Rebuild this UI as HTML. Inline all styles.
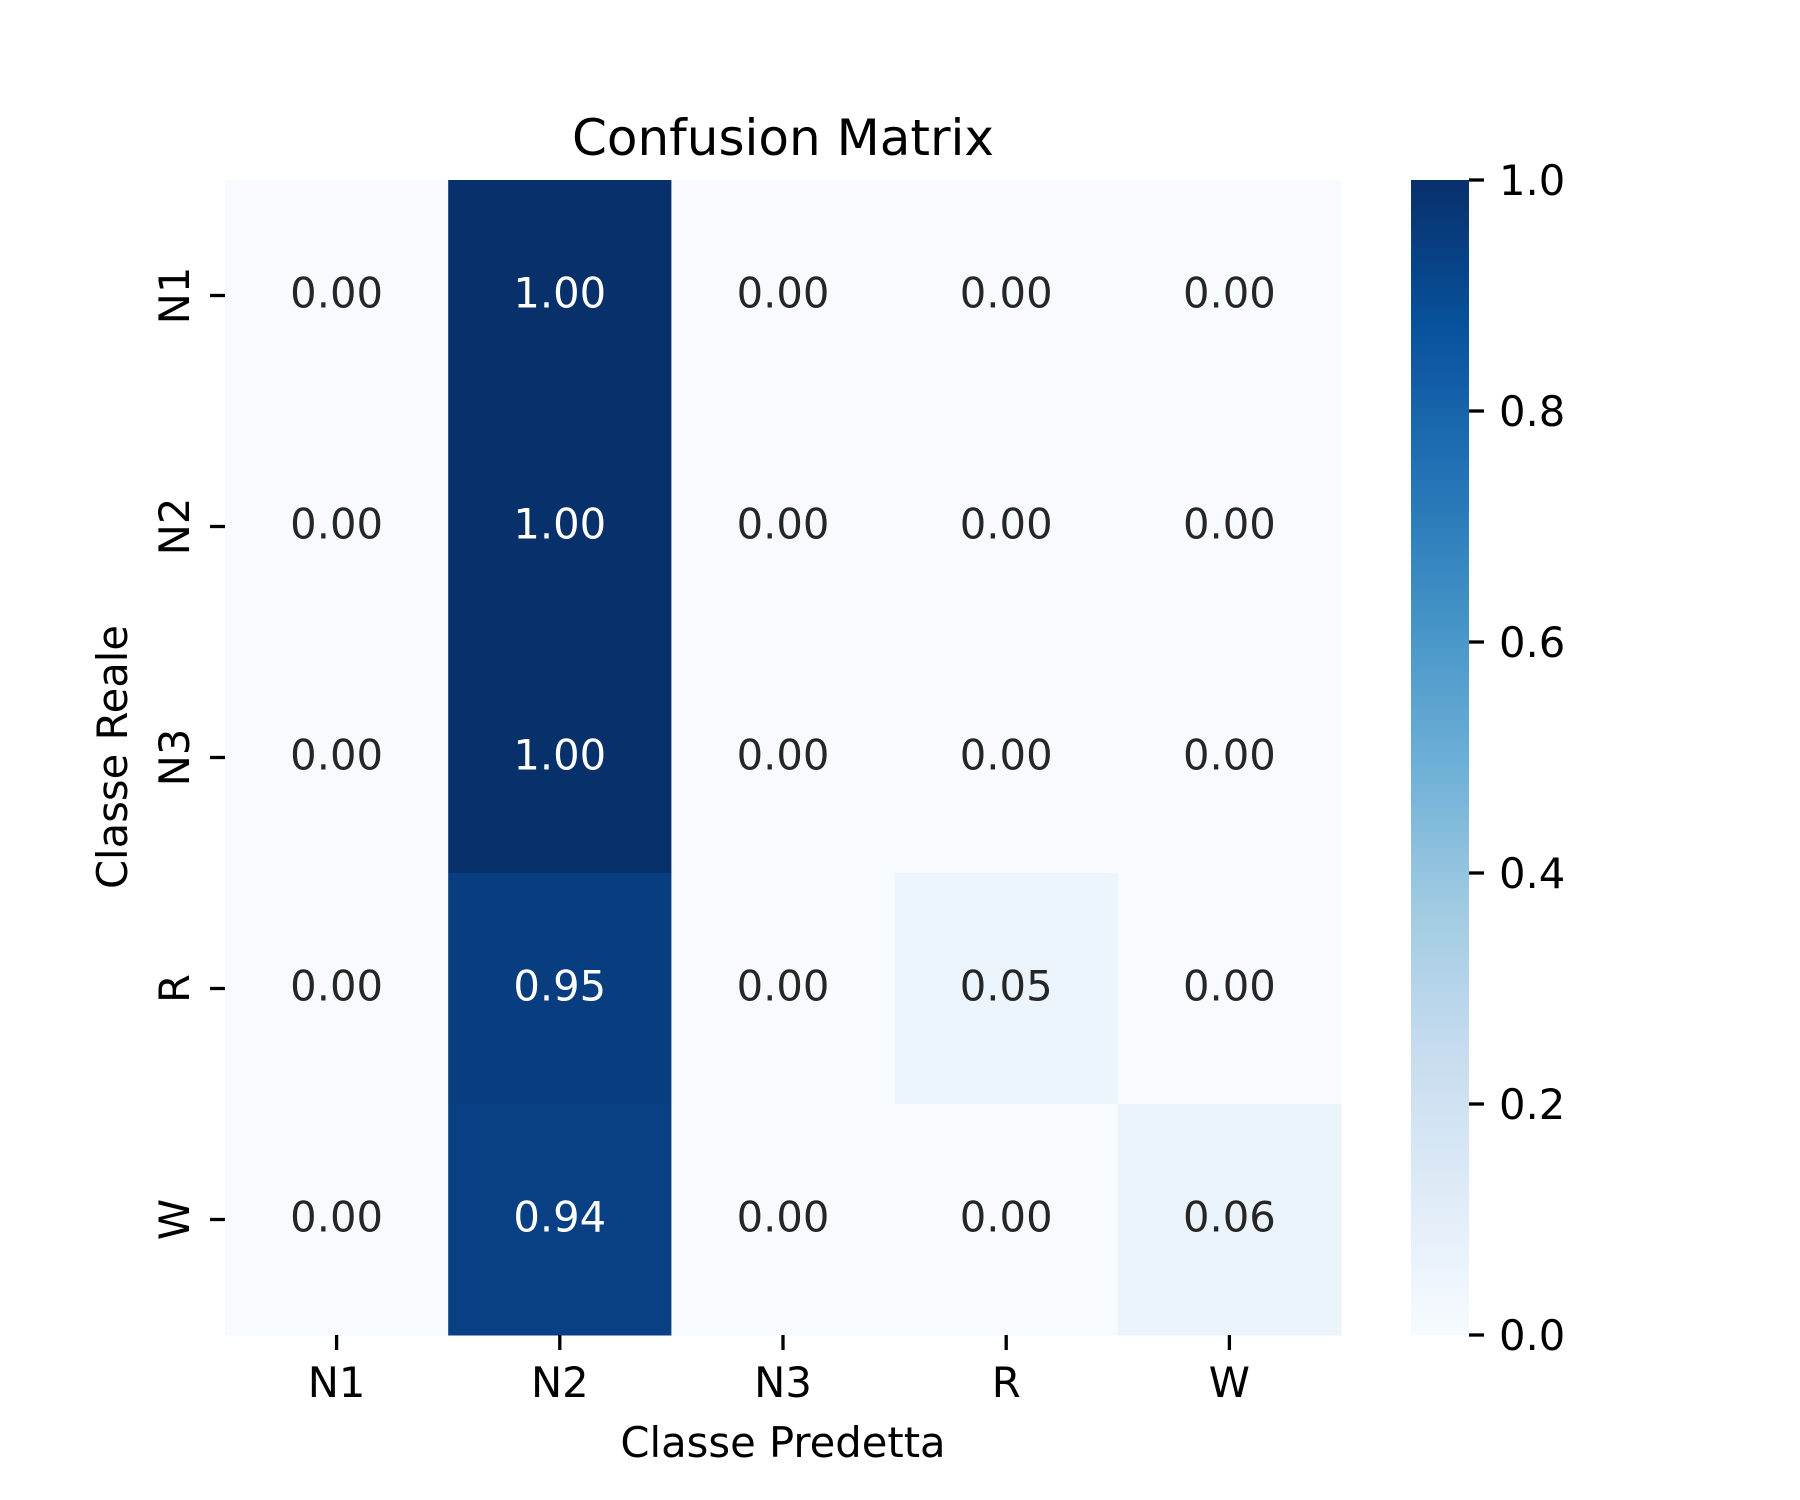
<!DOCTYPE html>
<html><head><meta charset="utf-8"><style>
body{margin:0;background:#fff}
svg{display:block;font-family:"DejaVu Sans","Liberation Sans",sans-serif}
</style></head><body>
<svg id="chart" width="1800" height="1500" viewBox="0 0 1800 1500">
<defs><linearGradient id="blues" x1="0" y1="1" x2="0" y2="0">
<stop offset="0" stop-color="#f7fbff"/><stop offset="0.125" stop-color="#deebf7"/><stop offset="0.25" stop-color="#c6dbef"/><stop offset="0.375" stop-color="#9ecae1"/><stop offset="0.5" stop-color="#6baed6"/><stop offset="0.625" stop-color="#4292c6"/><stop offset="0.75" stop-color="#2171b5"/><stop offset="0.875" stop-color="#08519c"/><stop offset="1" stop-color="#08306b"/></linearGradient></defs>
<text x="783" y="155" font-size="50" text-anchor="middle">Confusion Matrix</text>
<g id="cells"></g>
<g id="ticks"></g>
<text x="783" y="1457" font-size="41.7" text-anchor="middle">Classe Predetta</text>
<text transform="translate(127,757) rotate(-90)" font-size="41.7" text-anchor="middle">Classe Reale</text>
<rect x="1411" y="180" width="58" height="1155" fill="url(#blues)"/>
<g id="cbticks"></g>
</svg>
<script>
const classes = ["N1","N2","N3","R","W"];
const matrix = [
 [0.00,1.00,0.00,0.00,0.00],
 [0.00,1.00,0.00,0.00,0.00],
 [0.00,1.00,0.00,0.00,0.00],
 [0.00,0.95,0.00,0.05,0.00],
 [0.00,0.94,0.00,0.00,0.06]
];
const cbTicks = [0,0.2,0.4,0.6,0.8,1.0];
const NS="http://www.w3.org/2000/svg";
const X0=225,X1=1341,Y0=180,Y1=1335;
const cw=(X1-X0)/classes.length, ch=(Y1-Y0)/classes.length;
const xPos=j=>X0+j*cw, yPos=i=>Y0+i*ch;
const cbY=v=>Y1-v*(Y1-Y0);
const stops=[[247,251,255],[222,235,247],[198,219,239],[158,202,225],[107,174,214],[66,146,198],[33,113,181],[8,81,156],[8,48,107]];
function blues(v){const t=Math.max(0,Math.min(1,v))*8,i=Math.min(7,Math.floor(t)),f=t-i;const a=stops[i],b=stops[i+1];return `rgb(${a.map((c,k)=>Math.round(c+(b[k]-c)*f)).join(',')})`;}
function mk(tag,attrs,parent){const e=document.createElementNS(NS,tag);for(const k in attrs)e.setAttribute(k,attrs[k]);parent.appendChild(e);return e;}
const cells=document.getElementById('cells'),ticks=document.getElementById('ticks'),cbt=document.getElementById('cbticks');
matrix.forEach((row,i)=>row.forEach((v,j)=>{
 const r=mk('rect',{x:xPos(j),y:yPos(i),width:cw+0.5,height:ch+0.5,fill:blues(v)},cells);
 
 
 const t=mk('text',{x:xPos(j)+cw/2,y:yPos(i)+ch/2+12,'font-size':41.7,'text-anchor':'middle',fill:v>0.5?'#ffffff':'#262626'},cells);
 t.textContent=v.toFixed(2);
 
 
}));
classes.forEach((c,k)=>{
 const cx=xPos(k)+cw/2, cy=yPos(k)+ch/2;
 const l1=mk('line',{x1:cx,x2:cx,y1:Y1,y2:Y1+15,stroke:'#000','stroke-width':3.3},ticks);
 
 
 const t1=mk('text',{x:cx,y:Y1+62,'font-size':41.7,'text-anchor':'middle'},ticks);
 t1.textContent=c;
 
 
 const l2=mk('line',{x1:X0-15,x2:X0,y1:cy,y2:cy,stroke:'#000','stroke-width':3.3},ticks);
 
 
 const t2=mk('text',{transform:`translate(189,${cy}) rotate(-90)`,'font-size':41.7,'text-anchor':'middle'},ticks);
 t2.textContent=c;
 
 
});
cbTicks.forEach(v=>{
 const y=cbY(v);
 const l=mk('line',{x1:1469,x2:1484,y1:y,y2:y,stroke:'#000','stroke-width':3.3},cbt);
 
 
 const t=mk('text',{x:1499,y:y+15,'font-size':41.7},cbt);
 t.textContent=v.toFixed(1);
 
 
});
</script>
</body></html>
